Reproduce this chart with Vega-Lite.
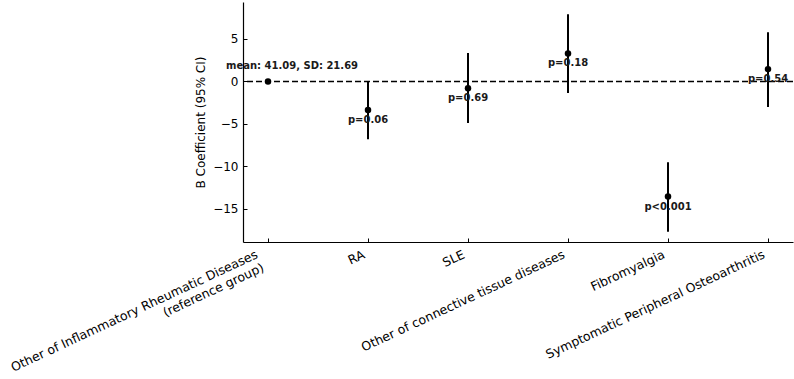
{
  "$schema": "https://vega.github.io/schema/vega-lite/v6.json",
  "width": 550,
  "height": 240,
  "autosize": {"type": "none"},
  "padding": {"left": 243, "top": 2, "right": 1, "bottom": 137},
  "background": "white",
  "config": {
    "view": {"stroke": null},
    "font": "DejaVu Sans",
    "axis": {
      "domainColor": "black",
      "domainWidth": 1.2,
      "tickColor": "black",
      "tickWidth": 1,
      "tickSize": -4,
      "labelFont": "DejaVu Sans",
      "labelFontSize": 12,
      "labelColor": "black",
      "labelLimit": 500,
      "titleFont": "DejaVu Sans",
      "titleFontSize": 12,
      "titleFontWeight": "normal",
      "titleColor": "black",
      "grid": false,
      "labelOverlap": false,
      "labelBound": false,
      "labelFlush": false
    }
  },
  "datasets": {
    "coef": [
      {"group": "Other of Inflammatory Rheumatic Diseases\n(reference group)", "b": 0, "lo": null, "hi": null, "label": "mean: 41.09, SD: 21.69", "ref": true},
      {"group": "RA", "b": -3.35, "lo": -6.8, "hi": 0.0, "label": "p=0.06", "ref": false},
      {"group": "SLE", "b": -0.8, "lo": -4.9, "hi": 3.35, "label": "p=0.69", "ref": false},
      {"group": "Other of connective tissue diseases", "b": 3.3, "lo": -1.35, "hi": 7.9, "label": "p=0.18", "ref": false},
      {"group": "Fibromyalgia", "b": -13.55, "lo": -17.7, "hi": -9.5, "label": "p<0.001", "ref": false},
      {"group": "Symptomatic Peripheral Osteoarthritis", "b": 1.45, "lo": -3.0, "hi": 5.8, "label": "p=0.54", "ref": false}
    ],
    "zero": [{"z": 0}]
  },
  "data": {"name": "coef"},
  "layer": [
    {
      "data": {"name": "zero"},
      "mark": {"type": "rule", "color": "black", "strokeWidth": 1.5, "strokeDash": [6, 3]},
      "encoding": {
        "y": {"field": "z", "type": "quantitative", "scale": {"domain": [-18.9, 9.35], "nice": false, "zero": false}}
      }
    },
    {
      "transform": [{"filter": "datum.lo != null"}],
      "mark": {"type": "rule", "color": "black", "strokeWidth": 2},
      "encoding": {
        "x": {"field": "group", "type": "nominal", "sort": null},
        "y": {"field": "lo", "type": "quantitative"},
        "y2": {"field": "hi"}
      }
    },
    {
      "mark": {"type": "circle", "color": "black", "opacity": 1, "size": 42},
      "encoding": {
        "x": {
          "field": "group", "type": "nominal", "sort": null,
          "scale": {
            "type": "point", "padding": 0.25,
            "domain": [
              "Other of Inflammatory Rheumatic Diseases\n(reference group)",
              "RA",
              "SLE",
              "Other of connective tissue diseases",
              "Fibromyalgia",
              "Symptomatic Peripheral Osteoarthritis"
            ]
          },
          "axis": {
            "title": null,
            "labelAngle": -25,
            "labelFontSize": 12.5,
            "labelAlign": "right",
            "labelBaseline": "top",
            "labelPadding": 10,
            "labelLineHeight": 14.5,
            "labelExpr": "split(datum.label, '\\n')",
            "labelOffset": {"condition": {"test": "indexof(datum.value, 'reference') >= 0", "value": -14}, "value": -7}
          }
        },
        "y": {
          "field": "b", "type": "quantitative",
          "scale": {"domain": [-18.9, 9.35], "nice": false, "zero": false},
          "axis": {"title": "B Coefficient (95% CI)", "values": [-15, -10, -5, 0, 5], "labelPadding": 9, "titlePadding": 5}
        }
      }
    },
    {
      "transform": [{"filter": "datum.ref"}],
      "mark": {"type": "text", "font": "DejaVu Sans", "fontWeight": "bold", "fontSize": 10, "color": "#1a1a1a", "align": "center", "baseline": "middle", "dx": 24, "dy": -15},
      "encoding": {
        "x": {"field": "group", "type": "nominal", "sort": null},
        "y": {"field": "b", "type": "quantitative"},
        "text": {"field": "label"}
      }
    },
    {
      "transform": [{"filter": "!datum.ref"}],
      "mark": {"type": "text", "font": "DejaVu Sans", "fontWeight": "bold", "fontSize": 10, "color": "#1a1a1a", "align": "center", "baseline": "middle", "dy": 10},
      "encoding": {
        "x": {"field": "group", "type": "nominal", "sort": null},
        "y": {"field": "b", "type": "quantitative"},
        "text": {"field": "label"}
      }
    }
  ]
}
